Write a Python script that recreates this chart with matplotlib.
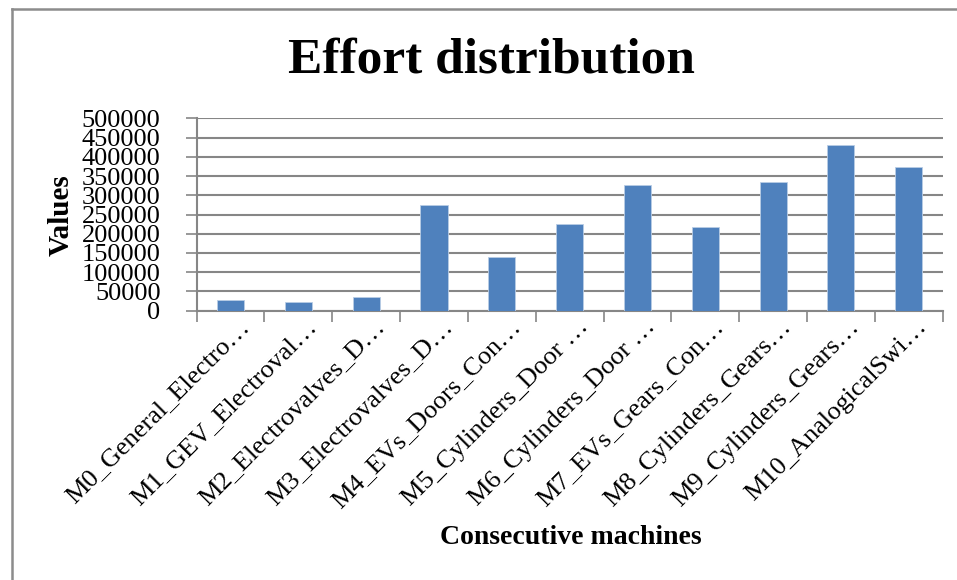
import matplotlib.pyplot as plt
from matplotlib.lines import Line2D
from matplotlib.ticker import MultipleLocator
from matplotlib.transforms import ScaledTranslation
import numpy as np

machines = [
    'M0_General_Electro…', 'M1_GEV_Electroval…', 'M2_Electrovalves_D…',
    'M3_Electrovalves_D…', 'M4_EVs_Doors_Con…', 'M5_Cylinders_Door …',
    'M6_Cylinders_Door …', 'M7_EVs_Gears_Con…', 'M8_Cylinders_Gears…',
    'M9_Cylinders_Gears…', 'M10_AnalogicalSwi…',
]
effort = [27000, 22500, 35500, 275500, 139500, 224500,
          327000, 217500, 334500, 431000, 373000]

plt.rcParams['font.family'] = ['Liberation Serif', 'DejaVu Serif']

fig = plt.figure(figsize=(9.57, 5.80), dpi=100)
ax = fig.add_axes([0.2055, 0.4643, 0.985 - 0.2055, 0.796 - 0.4643])

x = np.arange(len(machines))
ax.bar(x, effort, width=0.4, color='#4F81BD', edgecolor='#b9cde5',
       linewidth=0.6, zorder=3)

ax.set_xlim(-0.5, len(machines) - 0.5)
ax.set_ylim(0, 500000)
ax.yaxis.set_major_locator(MultipleLocator(50000))
ax.tick_params(axis='y', labelsize=19, length=8, width=1.2, color='#868686', pad=18)
ax.grid(axis='y', color='#868686', linewidth=1.5, zorder=0)

# category ticks sit between the bars
ax.set_xticks(np.arange(-0.5, len(machines)), minor=False)
ax.set_xticklabels([])
ax.set_xticks(x, minor=True)
ax.set_xticklabels(machines, minor=True, rotation=45, ha='right',
                   va='center', rotation_mode='anchor', fontsize=19)
ax.tick_params(axis='x', which='major', length=8, width=1.2, color='#868686')
ax.tick_params(axis='x', which='minor', length=0, pad=9)
shift = ScaledTranslation(0.15, 0, fig.dpi_scale_trans)
for lbl in ax.get_xticklabels(minor=True):
    lbl.set_transform(lbl.get_transform() + shift)

for side in ('top', 'right'):
    ax.spines[side].set_visible(False)
for side in ('left', 'bottom'):
    ax.spines[side].set_color('#868686')
    ax.spines[side].set_linewidth(1.5)

fig.text(0.5136, 0.895, 'Effort distribution', ha='center', va='center',
         fontsize=37, fontweight='bold')
fig.text(0.064, 0.629, 'Values', ha='center', va='center', rotation=90,
         fontsize=21, fontweight='bold')
fig.text(0.596, 0.074, 'Consecutive machines', ha='center', va='center',
         fontsize=20, fontweight='bold')

# chart frame on the left and top
fig.add_artist(Line2D([11.5 / 957, 11.5 / 957], [0, 1 - 8.5 / 580],
                      color='#8c8c8c', linewidth=1.8))
fig.add_artist(Line2D([11.5 / 957, 1], [1 - 8.5 / 580, 1 - 8.5 / 580],
                      color='#8c8c8c', linewidth=1.8))

fig.savefig('out.png', dpi=100)
